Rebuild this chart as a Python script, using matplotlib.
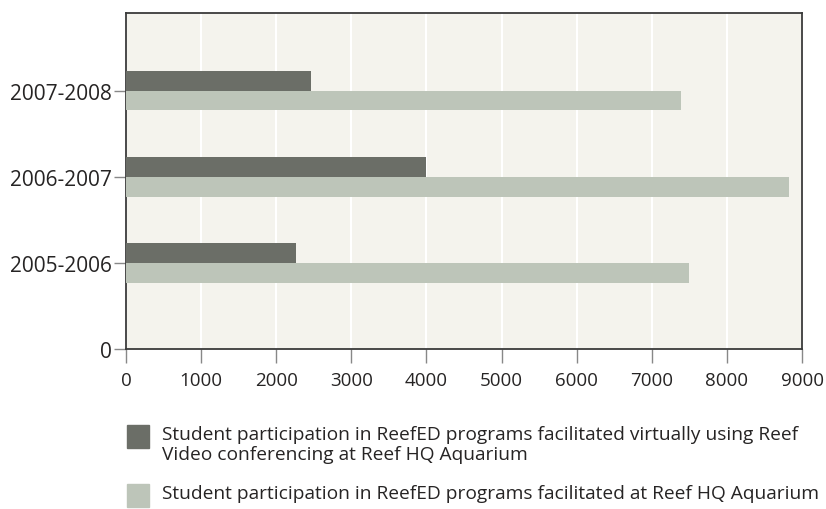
import numpy as np
import matplotlib
matplotlib.use('Agg')
import matplotlib.pyplot as plt
from matplotlib.patches import Rectangle

plt.rcParams['font.family'] = ['Open Sans', 'DejaVu Sans']

years = ['2005-2006', '2006-2007', '2007-2008']
virtual = [2260, 4000, 2460]
onsite = [7490, 8830, 7390]
labels = ['Student participation in ReefED programs facilitated virtually using Reef\nVideo conferencing at Reef HQ Aquarium',
          'Student participation in ReefED programs facilitated at Reef HQ Aquarium']

dark = '#6b6e67'
light = '#bdc5b9'
txt = '#262424'

fig = plt.figure(figsize=(8.26, 5.1), dpi=100)
ax = fig.add_axes([0.1525, 0.3137, 0.8185, 0.6588])
ax.set_facecolor('#f4f3ed')

pos = np.arange(1, len(years) + 1)
h = 0.23
ax.barh(pos, virtual, height=h, align='edge', color=dark, zorder=3)
ax.barh(pos, onsite, height=-h, align='edge', color=light, zorder=3)

ax.set_xlim(0, 9000)
ax.set_ylim(0, 3.9)
ax.set_xticks(np.arange(0, 9001, 1000))
ax.set_yticks([0] + list(pos))
ax.set_yticklabels(['0'] + years)
ax.grid(axis='x', color='white', linewidth=1.5, zorder=1)
ax.set_axisbelow(True)

for s in ax.spines.values():
    s.set_color('#3a3a3a')
    s.set_linewidth(1.3)

ax.tick_params(axis='y', length=9, width=1, color='#888888', pad=1, labelsize=15, labelcolor=txt)
ax.tick_params(axis='x', length=10, width=1, color='#888888', pad=6, labelsize=13.5, labelcolor=txt)

# legend below the plot, square swatch at the top of each entry
W, H = 826, 510
for lab, col, top in zip(labels, [dark, light], [426, 485]):
    fig.add_artist(Rectangle((127 / W, 1 - (top + 23) / H), 22 / W, 23 / H,
                             transform=fig.transFigure, color=col))
    fig.text(162 / W, 1 - (top + 0.5) / H, lab, fontsize=13.8, color=txt,
             va='top', ha='left', linespacing=1.12)

fig.savefig('out.png', dpi=100)
